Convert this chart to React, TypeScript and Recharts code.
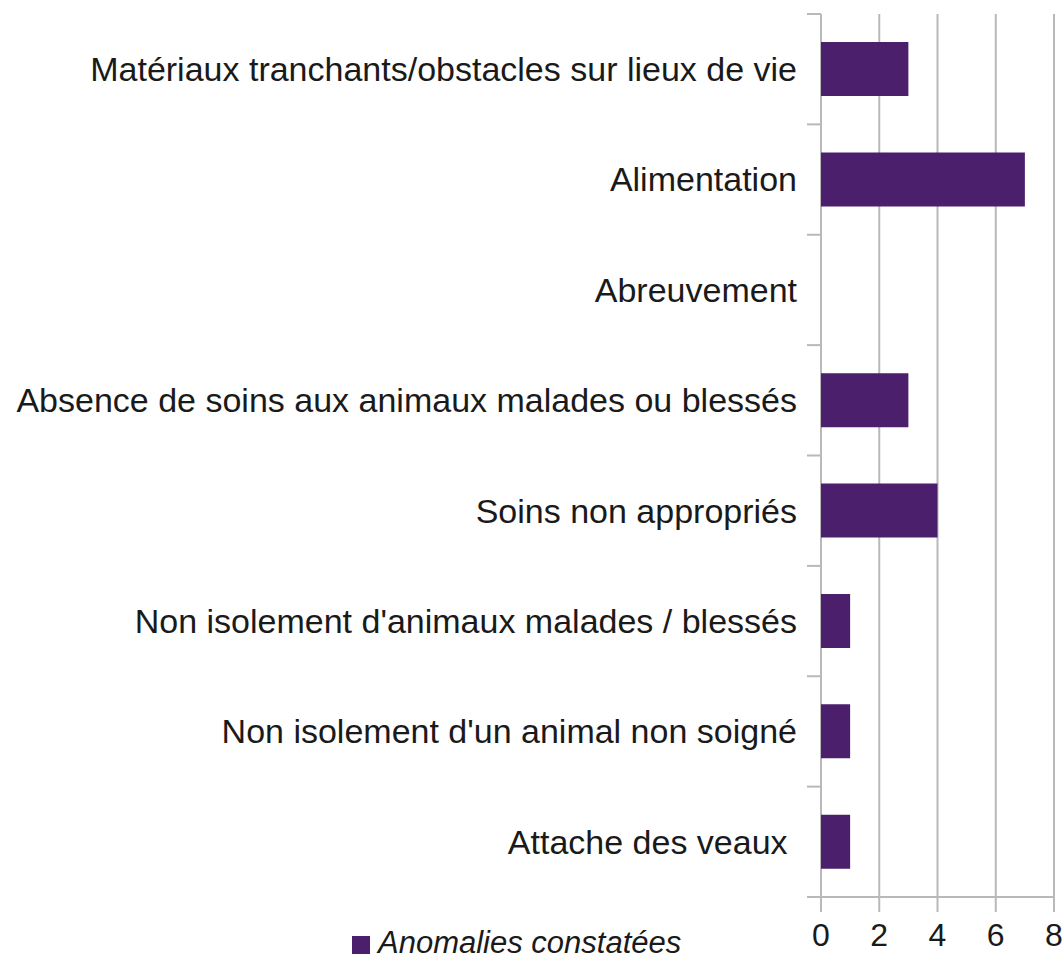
import React from 'react'
import { BarChart, Bar, XAxis, YAxis, CartesianGrid, Legend } from 'recharts'

const categories = [
  'Matériaux tranchants/obstacles sur lieux de vie',
  'Alimentation',
  'Abreuvement',
  'Absence de soins aux animaux malades ou blessés',
  'Soins non appropriés',
  "Non isolement d'animaux malades / blessés",
  "Non isolement d'un animal non soigné",
  'Attache des veaux\u00a0',
]
const anomalies = [3, 7, 0, 3, 4, 1, 1, 1]
const xTicks = [0, 2, 4, 6, 8]
const seriesName = 'Anomalies constatées'

const data = categories.map((name, i) => ({ name, value: anomalies[i] }))

const W = 1064
const H = 959
const X_AXIS_H = 62
const MARGIN = { top: 14, right: 10, bottom: 0, left: 0 }
const PLOT_H = H - MARGIN.top - X_AXIS_H
const BAND = PLOT_H / categories.length
const FONT = '"Liberation Sans", Arial, sans-serif'
const GRID = '#b9b9b9'
const BAR = '#4b1f6c'
const TEXT = '#1a1a1a'

function YTick(props: any) {
  const { x, y, payload, index } = props
  const last = index === categories.length - 1
  return (
    <g>
      <line x1={x - 14} x2={x} y1={y - BAND / 2} y2={y - BAND / 2} stroke={GRID} strokeWidth={2} />
      {last && <line x1={x - 14} x2={x} y1={y + BAND / 2} y2={y + BAND / 2} stroke={GRID} strokeWidth={2} />}
      <text x={x - 24} y={y} dy="0.35em" textAnchor="end" fontSize={34} fontFamily={FONT} fill={TEXT}>
        {payload.value}
      </text>
    </g>
  )
}

function LegendBox() {
  return (
    <div style={{ display: 'flex', alignItems: 'center', fontFamily: FONT, lineHeight: '30px' }}>
      <span style={{ display: 'inline-block', width: 18, height: 18, background: BAR, marginRight: 8, marginTop: 4 }} />
      <span style={{ fontStyle: 'italic', fontSize: 31, color: TEXT }}>{seriesName}</span>
    </div>
  )
}

export default function App() {
  return (
    <div style={{ position: 'absolute', left: 0, top: 0, width: W, height: H, background: '#fff' }}>
      <BarChart width={W} height={H} data={data} layout="vertical" margin={MARGIN}>
        <CartesianGrid horizontal={false} stroke={GRID} strokeWidth={2} />
        <XAxis
          type="number"
          domain={[0, 8]}
          ticks={xTicks}
          interval={0}
          axisLine={{ stroke: GRID, strokeWidth: 2 }}
          tickLine={{ stroke: GRID, strokeWidth: 2 }}
          tickSize={15}
          tickMargin={11}
          tick={{ fontSize: 32, fill: TEXT, fontFamily: FONT }}
          height={X_AXIS_H}
        />
        <XAxis
          xAxisId="top"
          orientation="top"
          type="number"
          domain={[0, 8]}
          tick={false}
          tickLine={false}
          axisLine={{ stroke: GRID, strokeWidth: 2 }}
          height={0}
        />
        <YAxis
          type="category"
          dataKey="name"
          width={821}
          axisLine={false}
          tickLine={false}
          tickSize={0}
          tickMargin={0}
          interval={0}
          tick={<YTick />}
        />
        <Legend
          layout="horizontal"
          verticalAlign="middle"
          content={<LegendBox />}
          wrapperStyle={{ left: 352, top: 928, width: 'auto' }}
        />
        <Bar dataKey="value" name={seriesName} fill={BAR} barSize={54} isAnimationActive={false} />
      </BarChart>
    </div>
  )
}
